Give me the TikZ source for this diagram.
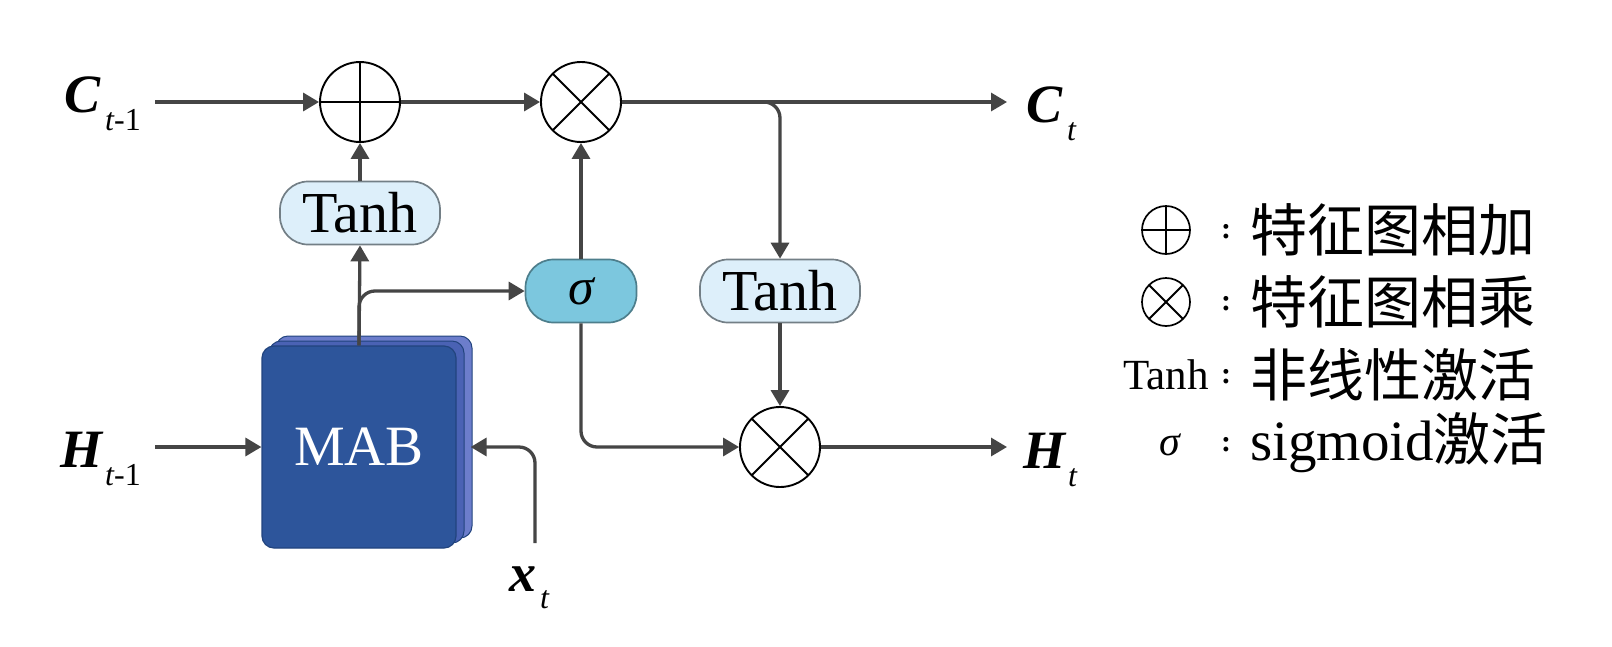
\documentclass[tikz,border=0pt]{standalone}
\usepackage{fontspec}
\setmainfont{Liberation Serif}
\newfontfamily\cjk{Noto Sans CJK SC}
\usetikzlibrary{arrows.meta}
\definecolor{linec}{HTML}{454545}
\definecolor{tanhfill}{HTML}{DDEFFA}
\definecolor{tanhdraw}{HTML}{737F86}
\definecolor{sigfill}{HTML}{7CC7DE}
\definecolor{sigdraw}{HTML}{4D7E8C}
\definecolor{mabfront}{HTML}{2D559B}
\definecolor{mabedge}{HTML}{22447E}
\definecolor{mabback}{HTML}{4A62B4}
\definecolor{mabbackb}{HTML}{6C7DCB}
\newcommand{\mysubf}{\fontsize{32}{32}\selectfont\mdseries\itshape}
\begin{document}
\begin{tikzpicture}[x=1pt,y=-1pt,
  conn/.style={draw=linec, line width=3.3pt, -{Triangle[length=16pt,width=18pt]}},
  opnode/.style={circle, draw=black, line width=1.9pt, fill=white, minimum size=80pt, inner sep=0pt},
  plusop/.style={opnode, path picture={\draw[line width=1.9pt] (path picture bounding box.north) -- (path picture bounding box.south) (path picture bounding box.west) -- (path picture bounding box.east);}},
  timesop/.style={opnode, path picture={\draw[line width=1.9pt] (path picture bounding box.north west) -- (path picture bounding box.south east) (path picture bounding box.north east) -- (path picture bounding box.south west);}},
  smallop/.style={minimum size=48pt, line width=1.7pt},
  tanhbox/.style={rectangle, rounded corners=28pt, draw=tanhdraw, fill=tanhfill, line width=1.7pt, minimum width=160pt, minimum height=63pt, inner sep=0pt, font=\fontsize{58}{58}\selectfont},
  sigbox/.style={rectangle, rounded corners=28pt, draw=sigdraw, fill=sigfill, line width=1.7pt, minimum width=111pt, minimum height=63pt, inner sep=0pt, font=\fontsize{52}{52}\selectfont\itshape},
  mabbox/.style={rectangle, rounded corners=12pt, draw=mabedge, fill=mabfront, line width=1.2pt, minimum width=194pt, minimum height=202pt, inner sep=0pt, text=white, font=\fontsize{57}{57}\selectfont},
  lbl/.style={inner sep=0pt, font=\fontsize{54}{54}\selectfont\bfseries\itshape},
  legtxt/.style={inner sep=0pt, anchor=west, font=\fontsize{57}{57}\selectfont},
  legcolon/.style={inner sep=0pt, font=\fontsize{30}{30}\selectfont\bfseries}
]
\useasboundingbox (0,0) rectangle (1612,646);
\fill[white] (0,0) rectangle (1612,646);

% MAB stacked layers
\draw[fill=mabbackb, draw=mabedge, line width=1pt, rounded corners=12pt] (276,336) rectangle (472,538);
\draw[fill=mabback, draw=mabedge, line width=1pt, rounded corners=12pt] (269,341) rectangle (464,543);
\node[mabbox] (mab) at (359,447) {MAB};

% operator nodes
\node[plusop] (plus) at (360,102) {};
\node[timesop] (t1) at (581,102) {};
\node[timesop] (t3) at (780,447) {};

% activation boxes
\node[tanhbox] (tanh1) at (360,213) {Tanh};
\node[sigbox] (sigma) at (581,291) {σ};
\node[tanhbox] (tanh2) at (780,291) {Tanh};

% free ends
\coordinate (cin) at (155,102);
\coordinate (cout) at (1007,102);
\coordinate (hin) at (155,447);
\coordinate (hout) at (1007,447);
\coordinate (xin) at (535,543);

% labels
\node[lbl, anchor=base west] (lct1) at (64,112) {C\kern5pt\raisebox{-18pt}{\mysubf t\upshape -1}};
\node[lbl, anchor=base west] (lht1) at (60,467) {H\kern3pt\raisebox{-18pt}{\mysubf t\upshape -1}};
\node[lbl, anchor=base west] (lct) at (1026,122) {C\kern5pt\raisebox{-18pt}{\mysubf t}};
\node[lbl, anchor=base west] (lht) at (1023,468) {H\kern3pt\raisebox{-18pt}{\mysubf t}};
\node[lbl, anchor=base west] (lxt) at (509,591) {x\kern4pt\raisebox{-17pt}{\mysubf t}};

% connectors
\draw[conn] (cin) -- (plus.west);
\draw[conn] (plus.east) -- (t1.west);
\draw[conn] (t1.east) -- (cout);
\draw[conn, rounded corners=16pt] (t1.east) -| (tanh2.north);
\draw[conn] (tanh1.north) -- (plus.south);
\draw[conn] (mab.north) -- (tanh1.south);
\draw[conn, rounded corners=16pt] (mab.north) |- (sigma.west);
\draw[conn] (sigma.north) -- (t1.south);
\draw[conn, rounded corners=16pt] (sigma.south) |- (t3.west);
\draw[conn] (tanh2.south) -- (t3.north);
\draw[conn] (t3.east) -- (hout);
\draw[conn] (hin) -- (mab.west);
\draw[conn, rounded corners=16pt] (xin) |- ([xshift=14pt]mab.east);

% legend
\node[plusop, smallop] (lgplus) at (1166,230) {};
\node[legcolon] (lgc1) at (1226,232) {:};
\node[legtxt] (lgt1) at (1250,230) {\cjk 特征图相加};

\node[timesop, smallop] (lgtimes) at (1166,302) {};
\node[legcolon] (lgc2) at (1226,304) {:};
\node[legtxt] (lgt2) at (1250,302) {\cjk 特征图相乘};

\node[inner sep=0pt, anchor=east, font=\fontsize{43}{43}\selectfont] (lgtanh) at (1209,375) {Tanh};
\node[legcolon] (lgc3) at (1226,377) {:};
\node[legtxt] (lgt3) at (1250,375) {\cjk 非线性激活};

\node[inner sep=0pt, font=\fontsize{42}{42}\selectfont\itshape] (lgsig) at (1170,445) {σ};
\node[legcolon] (lgc4) at (1226,445) {:};
\node[legtxt] (lgt4) at (1250,443) {sigmoid{\cjk 激活}};
\end{tikzpicture}
\end{document}
